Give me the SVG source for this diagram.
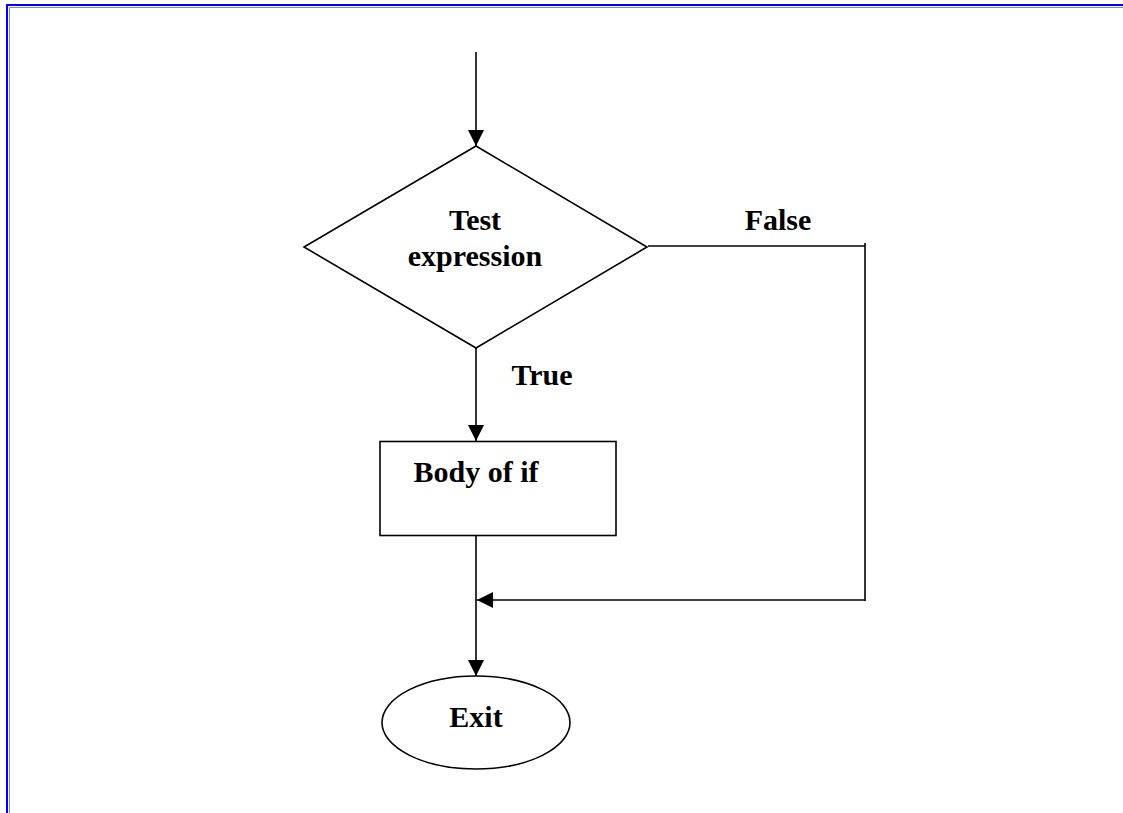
<svg xmlns="http://www.w3.org/2000/svg" width="1123" height="813" viewBox="0 0 1123 813">
<defs>
<style>
.ln{fill:none;stroke:#000;stroke-width:1.6}
.sh{fill:#fff;stroke:#000;stroke-width:1.6}
.tx{font-family:"Liberation Serif","Times New Roman",serif;font-weight:bold;font-size:30px;fill:#000;text-anchor:middle}
</style>
<marker id="ah" viewBox="0 0 16 16" refX="16" refY="8" markerWidth="16" markerHeight="16" markerUnits="userSpaceOnUse" orient="auto">
<path d="M0,0 L16,8 L0,16 Z" fill="#000"/>
</marker>
</defs>
<rect width="1123" height="813" fill="#fff"/>
<g id="frame">
<polyline points="1123,5 7,5 7,813" fill="none" stroke="#0000ff" stroke-width="2"/>
<polyline points="1123,7.5 9.5,7.5 9.5,813" fill="none" stroke="#8080ff" stroke-width="1"/>
</g>
<g id="connectors">
<line class="ln" x1="476" y1="52" x2="476" y2="146" marker-end="url(#ah)"/>
<line class="ln" x1="476" y1="348" x2="476" y2="441" marker-end="url(#ah)"/>
<polyline class="ln" points="648,246 865,246"/>
<line class="ln" x1="865" y1="243" x2="865" y2="601"/>
<line class="ln" x1="865" y1="600" x2="477" y2="600" marker-end="url(#ah)"/>
<line class="ln" x1="476" y1="536" x2="476" y2="676" marker-end="url(#ah)"/>
</g>
<g id="decision">
<polygon class="sh" points="476,146 647,247 476,348 304,247"/>
<text class="tx" x="475" y="230">Test</text>
<text class="tx" x="475" y="266">expression</text>
</g>
<g id="body">
<rect class="sh" x="380" y="441.5" width="236" height="94"/>
<text class="tx" x="476" y="482">Body of if</text>
</g>
<g id="exit">
<ellipse class="sh" cx="476" cy="722.5" rx="94" ry="46.5"/>
<text class="tx" x="476" y="727">Exit</text>
</g>
<g id="labels">
<text class="tx" x="778" y="230">False</text>
<text class="tx" x="542" y="385">True</text>
</g>
</svg>
